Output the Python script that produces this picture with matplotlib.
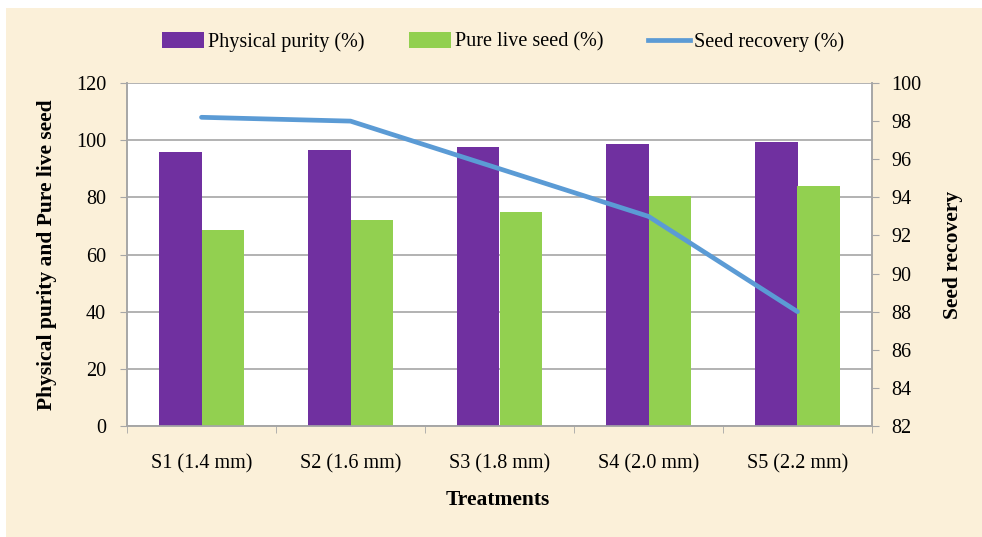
import matplotlib
matplotlib.use("Agg")
import matplotlib.pyplot as plt
import numpy as np
from matplotlib.patches import Rectangle, Patch
from matplotlib.lines import Line2D

categories = ["S1 (1.4 mm)", "S2 (1.6 mm)", "S3 (1.8 mm)", "S4 (2.0 mm)", "S5 (2.2 mm)"]
physical_purity = [95.7, 96.6, 97.5, 98.6, 99.3]
pure_live_seed = [68.7, 72.2, 74.9, 80.4, 83.8]
seed_recovery = [98.2, 98.0, 95.5, 93.0, 88.0]

plt.rcParams['font.family'] = ['Liberation Serif', 'DejaVu Serif']

W, H = 982, 537
fig = plt.figure(figsize=(W/100, H/100), dpi=100)
fig.patch.set_facecolor('white')
fig.patches.append(Rectangle((6/W, 0), 1, 1 - 8/H, transform=fig.transFigure,
                             facecolor='#FBF0D9', edgecolor='none', zorder=-10))

ax = fig.add_axes([127/W, 1 - 426/H, (872-127)/W, (426-83)/H])
ax.set_facecolor('white')

x = np.arange(len(categories))
bw = 0.283
ax.bar(x - bw/2, physical_purity, bw, color='#7030A0', zorder=3)
ax.bar(x + bw/2, pure_live_seed, bw, color='#92D050', zorder=3)

TICK_FS = 14.5
ax.set_xlim(-0.5, len(categories) - 0.5)
ax.set_ylim(0, 120)
ax.set_yticks(np.arange(0, 121, 20))
ax.yaxis.grid(True, color='#A6A6A6', linewidth=1.2, zorder=0)
ax.set_axisbelow(True)
ax.set_xticks(x)
ax.set_xticklabels(categories, fontsize=TICK_FS)
ax.set_xticks(np.arange(-0.5, len(categories), 1), minor=True)
ax.tick_params(axis='x', which='major', length=0, pad=20)
ax.tick_params(axis='x', which='minor', length=5, color='#A6A6A6', direction='out')
ax.tick_params(axis='y', length=5, color='#A6A6A6', labelsize=TICK_FS, pad=10)
ax.spines['top'].set_visible(False)
for s in ['left', 'bottom', 'right']:
    ax.spines[s].set_color('#A6A6A6')
    ax.spines[s].set_linewidth(1.2)

ax2 = ax.twinx()
ax2.plot(x, seed_recovery, color='#5B9BD5', linewidth=3.4, solid_capstyle='round', zorder=5)
ax2.set_ylim(82, 100)
ax2.set_yticks(np.arange(82, 101, 2))
ax2.tick_params(axis='y', length=5, color='#A6A6A6', labelsize=TICK_FS, pad=9)
ax2.spines['top'].set_visible(False)
for s in ['left', 'bottom', 'right']:
    ax2.spines[s].set_color('#A6A6A6')
    ax2.spines[s].set_linewidth(1.2)

fig.text(47/W, 1 - 255/H, "Physical purity and Pure live seed", rotation=90,
         ha='center', va='center', fontsize=15.5, fontweight='bold')
fig.text(953/W, 1 - 255/H, "Seed recovery", rotation=90,
         ha='center', va='center', fontsize=15.5, fontweight='bold')
fig.text(498/W, 1 - 500/H, "Treatments", ha='center', va='center',
         fontsize=15.5, fontweight='bold')

handles = [Patch(facecolor='#7030A0', edgecolor='none'),
           Patch(facecolor='#92D050', edgecolor='none'),
           Line2D([0], [0], color='#5B9BD5', linewidth=3.4)]
labels = ["Physical purity (%)", "Pure live seed (%)", "Seed recovery (%)"]
fig.legend(handles, labels, loc='center', bbox_to_anchor=(503/W, 1 - 42/H), ncol=3,
           frameon=False, fontsize=TICK_FS, handlelength=2.1, handleheight=0.8,
           handletextpad=0.2, columnspacing=2.2)

fig.savefig("out.png", dpi=100, facecolor=fig.get_facecolor())
